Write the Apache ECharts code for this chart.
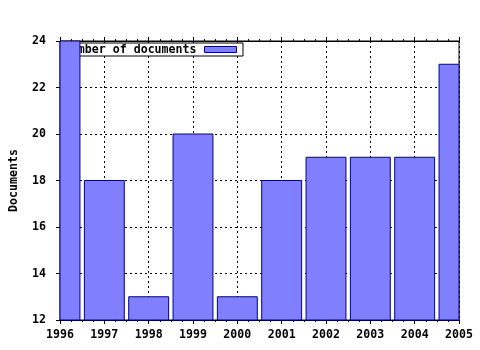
<!DOCTYPE html>
<html>
<head>
<meta charset="utf-8">
<script src="https://cdn.jsdelivr.net/npm/echarts@6/dist/echarts.min.js"></script>
<style>html,body{margin:0;padding:0;background:#fff}#c{width:480px;height:350px}</style>
</head>
<body>
<div id="c"></div>
<script>
var years = [1996, 1997, 1998, 1999, 2000, 2001, 2002, 2003, 2004, 2005];
var documents = [24, 18, 13, 20, 13, 18, 19, 19, 19, 23];
var yTicks = [12, 14, 16, 18, 20, 22, 24];
var seriesName = 'Number of documents';
var yAxisName = 'Documents';

var FONT = 'DejaVu Sans Mono';
var BAR_FILL = '#8080ff';
var BAR_EDGE = '#00008b';
var chart = echarts.init(document.getElementById('c'));
var data = years.map(function (y, i) { return [y, documents[i]]; });
var yMin = yTicks[0], yMax = yTicks[yTicks.length - 1];

function renderBar(params, api) {
  var x = api.value(0), v = api.value(1);
  var top = api.coord([x, v]);
  var base = api.coord([x, yMin]);
  var w = api.size([0.9, 0])[0];
  var rect = echarts.graphic.clipRectByRect({
    x: top[0] - w / 2, y: top[1], width: w, height: base[1] - top[1]
  }, {
    x: params.coordSys.x, y: params.coordSys.y,
    width: params.coordSys.width, height: params.coordSys.height
  });
  if (!rect) return;
  return {
    type: 'rect',
    shape: rect,
    style: { fill: BAR_FILL, stroke: BAR_EDGE, lineWidth: 1 }
  };
}

chart.setOption({
  animation: false,
  backgroundColor: '#fff',
  grid: { left: 57, right: 21, top: 41, bottom: 30, show: true, borderColor: '#000', borderWidth: 1, backgroundColor: 'transparent' },
  legend: {
    z: 1,
    right: 237,
    top: 43,
    align: 'right',
    padding: [0, 6, 0, 3],
    backgroundColor: '#fff',
    borderColor: '#000',
    borderWidth: 1,
    borderRadius: 0,
    itemWidth: 32,
    itemHeight: 6,
    textStyle: { fontFamily: FONT, fontWeight: 'bold', fontSize: 11.6, color: '#000', lineHeight: 13, padding: [0, 3, 0, 0] },
    data: [{ name: seriesName, icon: 'rect', itemStyle: { color: BAR_FILL, borderColor: BAR_EDGE, borderWidth: 1 } }]
  },
  xAxis: [{
    type: 'value',
    min: years[0],
    max: years[years.length - 1],
    interval: 1,
    position: 'bottom',
    axisLine: { show: true, lineStyle: { color: '#000', width: 1 } },
    axisTick: { show: true, inside: false, length: 4, lineStyle: { color: '#000' } },
    minorTick: { show: true, splitNumber: 4, length: 2, lineStyle: { color: '#000' } },
    axisLabel: { margin: 9, fontFamily: FONT, fontWeight: 'bold', fontSize: 11.6, color: '#000', formatter: function (v) { return String(v); } },
    splitLine: { show: true, lineStyle: { color: '#000', type: [2, 3], width: 1 } }
  }, {
    type: 'value',
    min: years[0],
    max: years[years.length - 1],
    interval: 1,
    position: 'top',
    axisLine: { show: true, lineStyle: { color: '#000', width: 1 } },
    axisTick: { show: true, inside: false, length: 4, lineStyle: { color: '#000' } },
    minorTick: { show: true, splitNumber: 4, length: 2, lineStyle: { color: '#000' } },
    axisLabel: { show: false },
    splitLine: { show: false }
  }],
  yAxis: [{
    type: 'value',
    min: yMin,
    max: yMax,
    interval: 2,
    name: yAxisName,
    nameLocation: 'middle',
    nameGap: 40,
    nameRotate: 90,
    nameTextStyle: { fontFamily: FONT, fontWeight: 'bold', fontSize: 11.6, color: '#000' },
    axisLine: { show: true, lineStyle: { color: '#000', width: 1 } },
    axisTick: { show: true, inside: false, length: 4, lineStyle: { color: '#000' } },
    axisLabel: { margin: 14, fontFamily: FONT, fontWeight: 'bold', fontSize: 11.6, color: '#000' },
    splitLine: { show: true, lineStyle: { color: '#000', type: [2, 3], width: 1 } }
  }],
  series: [{
    name: seriesName,
    type: 'custom',
    z: 3,
    renderItem: renderBar,
    encode: { x: 0, y: 1 },
    itemStyle: { color: BAR_FILL, borderColor: BAR_EDGE, borderWidth: 1 },
    data: data
  }]
});
</script>
</body>
</html>
